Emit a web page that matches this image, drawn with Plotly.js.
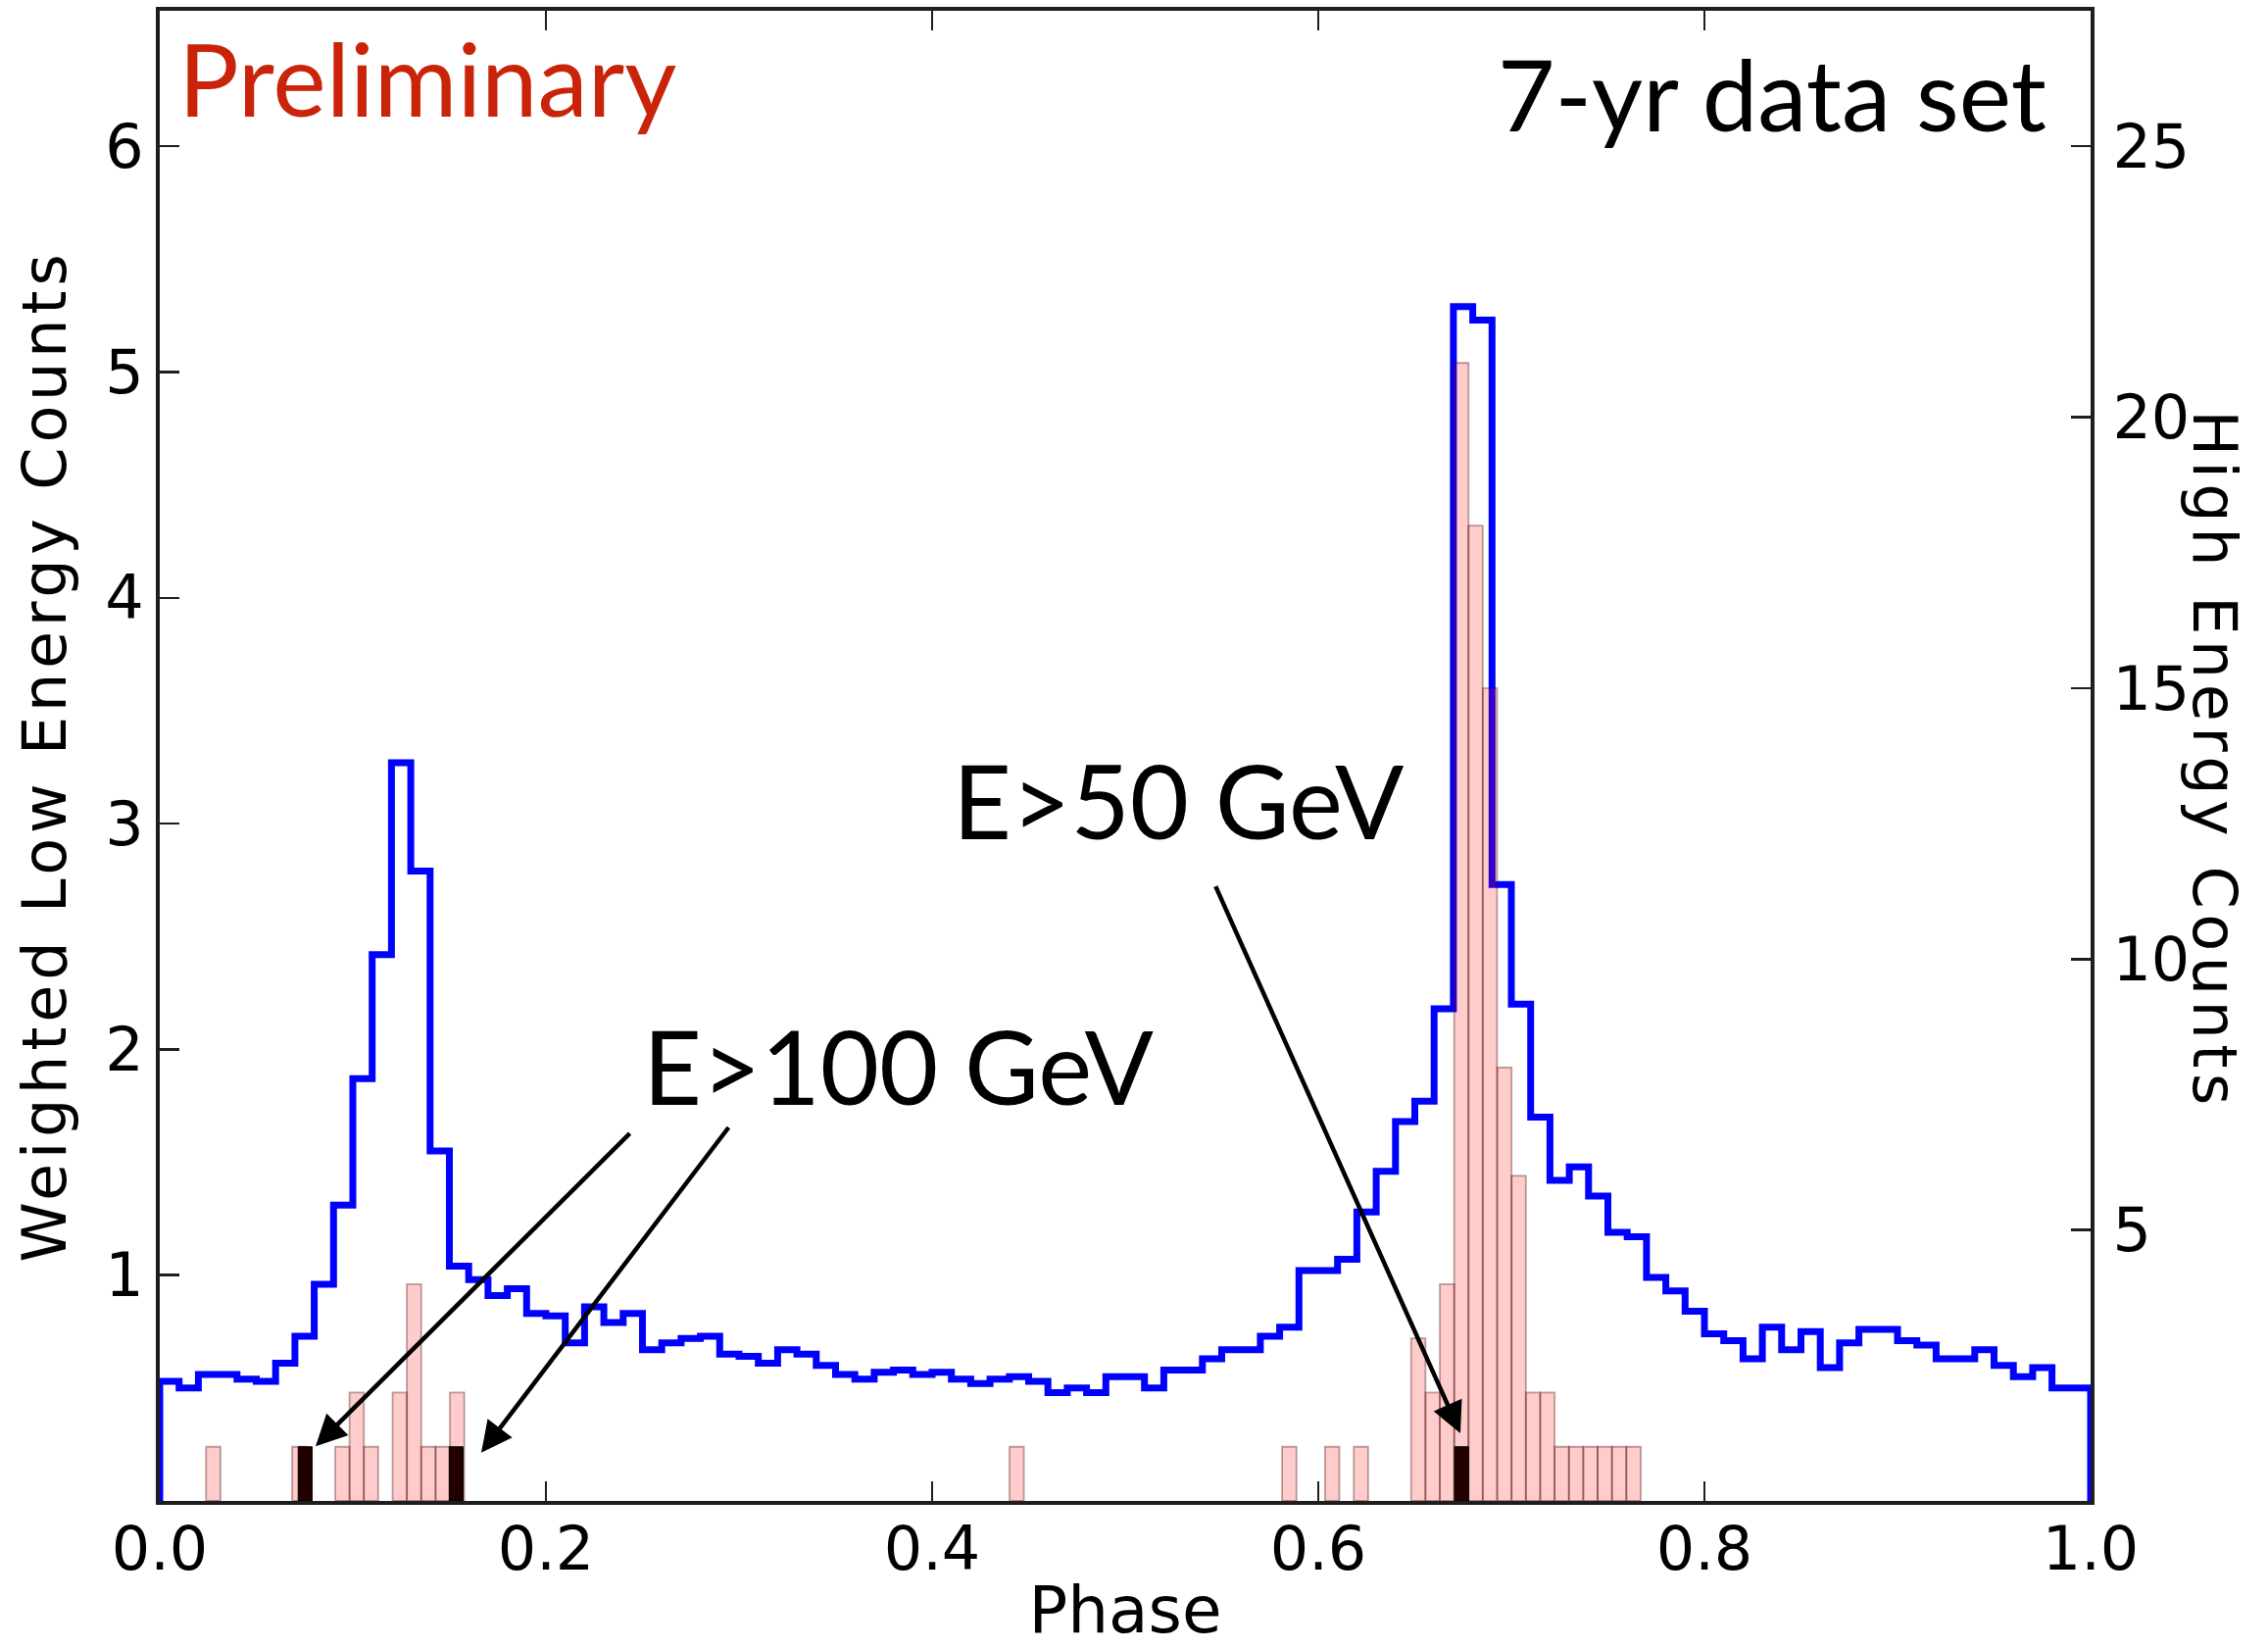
<!DOCTYPE html>
<html>
<head>
<meta charset="utf-8">
<script src="https://cdn.plot.ly/plotly-3.0.1.min.js"></script>
<style>
html,body{margin:0;padding:0;background:#fff;}
#chart{width:2314px;height:1681px;}
</style>
</head>
<body>
<div id="chart"></div>
<script>
// ---- Low-energy weighted counts: step histogram, 100 bins of width 0.01 in phase ----
const phaseEdges = [0.00,0.01,0.02,0.03,0.04,0.05,0.06,0.07,0.08,0.09,
  0.10,0.11,0.12,0.13,0.14,0.15,0.16,0.17,0.18,0.19,
  0.20,0.21,0.22,0.23,0.24,0.25,0.26,0.27,0.28,0.29,
  0.30,0.31,0.32,0.33,0.34,0.35,0.36,0.37,0.38,0.39,
  0.40,0.41,0.42,0.43,0.44,0.45,0.46,0.47,0.48,0.49,
  0.50,0.51,0.52,0.53,0.54,0.55,0.56,0.57,0.58,0.59,
  0.60,0.61,0.62,0.63,0.64,0.65,0.66,0.67,0.68,0.69,
  0.70,0.71,0.72,0.73,0.74,0.75,0.76,0.77,0.78,0.79,
  0.80,0.81,0.82,0.83,0.84,0.85,0.86,0.87,0.88,0.89,
  0.90,0.91,0.92,0.93,0.94,0.95,0.96,0.97,0.98,0.99,1.00];
const lowCounts = [0.53,0.50,0.56,0.56,0.54,0.53,0.61,0.73,0.96,1.31,
  1.87,2.42,3.27,2.79,1.55,1.04,0.98,0.91,0.94,0.83,
  0.82,0.70,0.86,0.79,0.83,0.67,0.70,0.72,0.73,0.65,
  0.64,0.61,0.67,0.65,0.60,0.56,0.54,0.57,0.58,0.56,
  0.57,0.54,0.52,0.54,0.55,0.53,0.48,0.50,0.48,0.55,
  0.55,0.50,0.58,0.58,0.63,0.67,0.67,0.73,0.77,1.02,
  1.02,1.07,1.28,1.46,1.68,1.77,2.18,5.29,5.23,2.73,
  2.20,1.70,1.42,1.48,1.35,1.19,1.17,0.99,0.93,0.84,
  0.74,0.71,0.63,0.77,0.67,0.75,0.59,0.70,0.76,0.76,
  0.71,0.69,0.63,0.63,0.67,0.60,0.55,0.59,0.50,0.50];

// ---- High-energy (E>50 GeV) counts: non-empty bins ----
const heBinWidth = 0.00743;
const heCenters = [0.0277,0.0723,0.0946,0.1020,0.1094,0.1243,0.1317,0.1391,0.1466,0.1540,
  0.4438,0.5850,0.6072,0.6221,
  0.6518,0.6592,0.6667,0.6741,0.6815,0.6889,0.6964,0.7038,0.7112,0.7187,
  0.7261,0.7335,0.7410,0.7484,0.7558,0.7633];
const heCounts = [1,1,1,2,1,2,4,1,1,2,
  1,1,1,1,
  3,2,4,21,18,15,8,6,2,2,
  1,1,1,1,1,1];

// ---- Very-high-energy (E>100 GeV) counts ----
const vheBinWidth = 0.0072;
const vheCenters = [0.0753,0.1535,0.6742];
const vheCounts = [1,1,1];

// ---- Axis ticks ----
const xTickVals = [0.0,0.2,0.4,0.6,0.8,1.0];
const xTickText = ['0.0','0.2','0.4','0.6','0.8','1.0'];
const yLeftTicks = [1,2,3,4,5,6];
const yRightTicks = [5,10,15,20,25];

// build step outline (matplotlib histtype='step')
const nB = lowCounts.length;
const stepX = [phaseEdges[0]].concat(phaseEdges.slice(0, nB), [phaseEdges[nB], phaseEdges[nB]]);
const stepY = [0].concat(lowCounts, [lowCounts[nB-1], 0]);

const traces = [
  {
    type: 'scatter', mode: 'lines', x: stepX, y: stepY,
    line: {shape: 'hv', color: '#0000ff', width: 7},
    xaxis: 'x', yaxis: 'y', hoverinfo: 'skip', showlegend: false
  },
  {
    type: 'bar', x: heCenters, y: heCounts, width: heBinWidth,
    marker: {color: 'rgba(255,0,0,0.2)', line: {color: 'rgba(60,0,0,0.35)', width: 1.8}},
    xaxis: 'x', yaxis: 'y2', showlegend: false
  },
  {
    type: 'bar', x: vheCenters, y: vheCounts, width: vheBinWidth,
    marker: {color: '#220000', line: {color: '#000000', width: 1}},
    xaxis: 'x', yaxis: 'y2', showlegend: false
  }
];

const F = 'DejaVu Sans, sans-serif';
const TF = 'Lato, Open Sans, sans-serif';
const axisCol = '#1e1e1e';

const layout = {
  width: 2314, height: 1681,
  margin: {l: 163, r: 181, t: 11, b: 150, pad: 0},
  paper_bgcolor: '#ffffff', plot_bgcolor: '#ffffff',
  barmode: 'overlay', bargap: 0,
  showlegend: false,
  xaxis: {
    range: [0, 1], tickvals: xTickVals, ticktext: xTickText,
    ticks: 'inside', ticklen: 20, tickwidth: 2.5, tickcolor: axisCol,
    showline: true, linewidth: 4, linecolor: axisCol, mirror: 'ticks',
    showgrid: false, zeroline: false, automargin: false,
    tickfont: {family: F, size: 62, color: '#000'},
    ticklabelstandoff: -8,
    title: {text: 'Phase', font: {family: F, size: 66, color: '#000'}, standoff: 30}
  },
  yaxis: {
    range: [0, 6.6], tickvals: yLeftTicks,
    ticks: 'inside', ticklen: 20, tickwidth: 2.5, tickcolor: axisCol,
    showline: true, linewidth: 4, linecolor: axisCol, mirror: true,
    showgrid: false, zeroline: false, automargin: false,
    tickfont: {family: F, size: 62, color: '#000'},
    ticklabelstandoff: 0,
    title: {text: '<span style="letter-spacing:4.8px">Weighted Low Energy Counts</span>',
            font: {family: F, size: 62, color: '#000'}, standoff: 20}
  },
  yaxis2: {
    range: [0, 27.5], tickvals: yRightTicks,
    overlaying: 'y', side: 'right', anchor: 'x',
    ticks: 'inside', ticklen: 20, tickwidth: 2.5, tickcolor: axisCol,
    showline: true, linewidth: 4, linecolor: axisCol,
    showgrid: false, zeroline: false, automargin: false,
    tickfont: {family: F, size: 62, color: '#000'},
    ticklabelstandoff: 6
  },
  annotations: [
    {text: '<span style="letter-spacing:5.5px">High Energy Counts</span>', xref: 'paper', yref: 'paper', x: 1.064, y: 0.497,
     xanchor: 'center', yanchor: 'middle', textangle: 90, showarrow: false,
     font: {family: F, size: 62, color: '#000'}},
    {text: 'Preliminary', xref: 'paper', yref: 'paper', x: 0.0085, y: 0.955,
     xanchor: 'left', yanchor: 'middle', showarrow: false,
     font: {family: TF, size: 103, color: '#c9240a'}},
    {text: '7-yr data set', xref: 'paper', yref: 'paper', x: 0.978, y: 0.945,
     xanchor: 'right', yanchor: 'middle', showarrow: false,
     font: {family: TF, size: 101, color: '#000'}},
    {text: 'E>50 GeV', xref: 'paper', yref: 'paper', x: 0.4095, y: 0.4705,
     xanchor: 'left', yanchor: 'middle', showarrow: false,
     font: {family: TF, size: 104, color: '#000'}},
    {text: 'E>100 GeV', xref: 'paper', yref: 'paper', x: 0.2490, y: 0.2925,
     xanchor: 'left', yanchor: 'middle', showarrow: false,
     font: {family: TF, size: 104, color: '#000'}},
    {text: '', xref: 'x', yref: 'y2', x: 0.0807, y: 1.01, axref: 'x', ayref: 'y2', ax: 0.2442, ay: 6.81,
     showarrow: true, arrowhead: 2, arrowsize: 1.4, arrowwidth: 4.5, arrowcolor: '#000'},
    {text: '', xref: 'x', yref: 'y2', x: 0.1665, y: 0.89, axref: 'x', ayref: 'y2', ax: 0.2952, ay: 6.92,
     showarrow: true, arrowhead: 2, arrowsize: 1.4, arrowwidth: 4.5, arrowcolor: '#000'},
    {text: '', xref: 'x', yref: 'y2', x: 0.6736, y: 1.25, axref: 'x', ayref: 'y2', ax: 0.5465, ay: 11.37,
     showarrow: true, arrowhead: 2, arrowsize: 1.4, arrowwidth: 4.5, arrowcolor: '#000'}
  ]
};

Plotly.newPlot('chart', traces, layout, {staticPlot: true, displayModeBar: false});
</script>
</body>
</html>
